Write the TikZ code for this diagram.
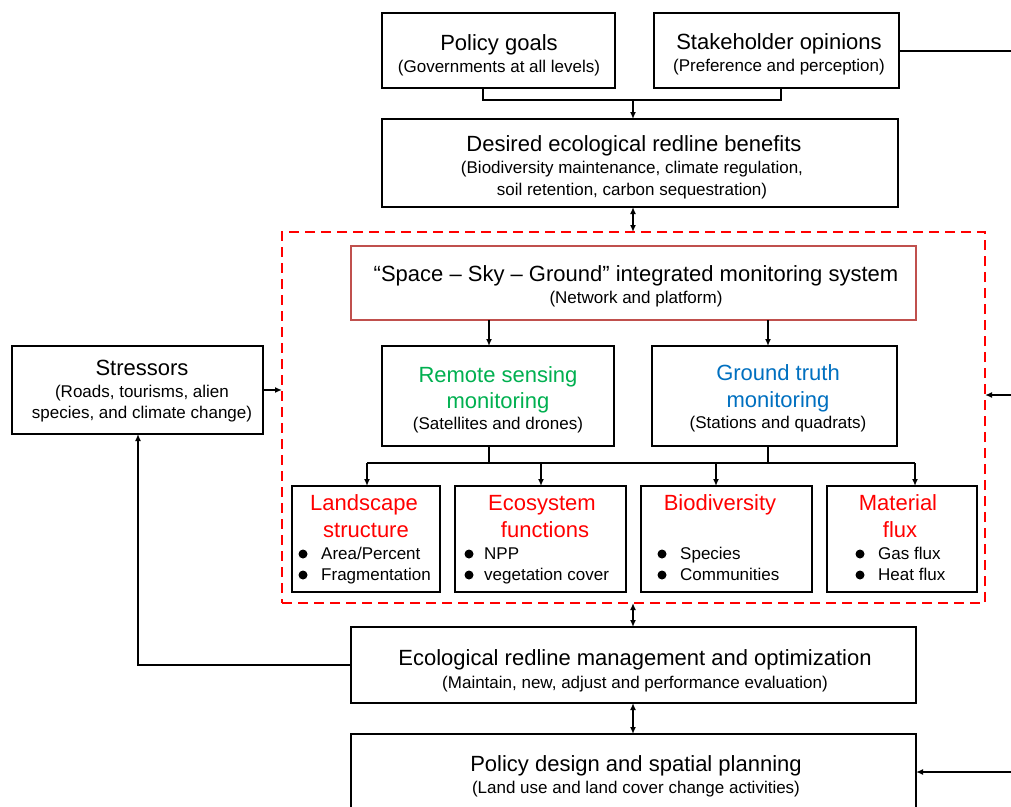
\documentclass[tikz,border=0pt]{standalone}
\usepackage{fontspec}
\setmainfont{Liberation Sans}
\usetikzlibrary{arrows.meta}
\definecolor{rgreen}{RGB}{0,176,80}
\definecolor{gblue}{RGB}{0,112,192}
\definecolor{ssgred}{RGB}{192,80,77}
\definecolor{tred}{RGB}{255,0,0}
\begin{document}
\begin{tikzpicture}[x=1pt,y=-1pt,
  box/.style={draw=black, line width=2.2pt, inner sep=0pt, outer sep=0pt},
  dashbox/.style={draw=tred, line width=2.2pt, dash pattern=on 10pt off 6pt, inner sep=0pt, outer sep=0pt},
  ssgbox/.style={draw=ssgred, line width=1.8pt, inner sep=0pt, outer sep=0pt},
  ln/.style={line width=2pt},
  arr/.style={ln, -{Latex[length=7pt,width=6pt]}},
  darr/.style={ln, {Latex[length=7pt,width=6pt]}-{Latex[length=7pt,width=6pt]}},
  tt/.style={inner sep=0pt, anchor=base, font=\fontsize{22}{26}\selectfont},
  ss/.style={inner sep=0pt, anchor=base, font=\fontsize{17}{20}\selectfont},
  it/.style={inner sep=0pt, anchor=base west, font=\fontsize{17}{20}\selectfont},
  bul/.style={fill=black},
]
\clip (0,0) rectangle (1011,806);
\fill[white] (0,0) rectangle (1011,806);

% ---------- boxes ----------
\node[box, minimum width=233pt, minimum height=75pt] (pg) at (498.5,50.5) {};
\node[box, minimum width=245pt, minimum height=75pt] (so) at (776.5,50.5) {};
\node[box, minimum width=516pt, minimum height=88pt] (ben) at (640,163) {};
\node[dashbox, minimum width=703pt, minimum height=371pt] (mon) at (633.5,417.5) {};
\node[ssgbox, minimum width=565pt, minimum height=74pt] (ssg) at (633.5,283) {};
\node[box, minimum width=232pt, minimum height=100pt] (rs) at (498,396) {};
\node[box, minimum width=245pt, minimum height=100pt] (gt) at (774.5,396) {};
\node[box, minimum width=148pt, minimum height=106pt] (ls) at (366,539) {};
\node[box, minimum width=171pt, minimum height=106pt] (ef) at (540.5,539) {};
\node[box, minimum width=171pt, minimum height=106pt] (bd) at (726.5,539) {};
\node[box, minimum width=150pt, minimum height=106pt] (mf) at (902,539) {};
\node[box, minimum width=251pt, minimum height=88pt] (st) at (137.5,390) {};
\node[box, minimum width=565pt, minimum height=76pt] (mg) at (633.5,665) {};
\node[box, minimum width=565pt, minimum height=96pt] (pd) at (633.5,782) {};

% ---------- texts ----------
\node[tt] (pgt) at (499,50) {Policy goals};
\node[ss] (pgs) at (499,72) {(Governments at all levels)};
\node[tt] (sot) at (779,49) {Stakeholder opinions};
\node[ss] (sos) at (779,71) {(Preference and perception)};
\node[tt] (bent) at (634,151) {Desired ecological redline benefits};
\node[ss] (bens1) at (632,173) {(Biodiversity maintenance, climate regulation,};
\node[ss] (bens2) at (632,195) {soil retention, carbon sequestration)};
\node[tt] (ssgt) at (636,281) {“Space – Sky – Ground” integrated monitoring system};
\node[ss] (ssgs) at (636,303) {(Network and platform)};
\node[tt, text=rgreen] (rst1) at (498,382) {Remote sensing};
\node[tt, text=rgreen] (rst2) at (498,408) {monitoring};
\node[ss] (rss) at (498,429) {(Satellites and drones)};
\node[tt, text=gblue] (gtt1) at (778,380) {Ground truth};
\node[tt, text=gblue] (gtt2) at (778,407) {monitoring};
\node[ss] (gts) at (778,428) {(Stations and quadrats)};
\node[tt] (stt) at (142,375) {Stressors};
\node[ss] (sts1) at (142,397) {(Roads, tourisms, alien};
\node[ss] (sts2) at (142,418) {species, and climate change)};
\node[tt] (mgt) at (635,665) {Ecological redline management and optimization};
\node[ss] (mgs) at (635,688) {(Maintain, new, adjust and performance evaluation)};
\node[tt] (pdt) at (636,771) {Policy design and spatial planning};
\node[ss] (pds) at (636,793) {(Land use and land cover change activities)};

% bottom boxes
\node[tt, text=tred] (lst1) at (364,510) {Landscape};
\node[tt, text=tred] (lst2) at (366,537) {structure};
\fill[bul] (303,554) circle (4.5pt); \node[it] (ls1) at (321,559.5) {Area/Percent};
\fill[bul] (303,575) circle (4.5pt); \node[it] (ls2) at (321,580.5) {Fragmentation};

\node[tt, text=tred] (eft1) at (542,510) {Ecosystem};
\node[tt, text=tred] (eft2) at (545,537) {functions};
\fill[bul] (469,554) circle (4.5pt); \node[it] (ef1) at (484,559.5) {NPP};
\fill[bul] (469,575) circle (4.5pt); \node[it] (ef2) at (484,580.5) {vegetation cover};

\node[tt, text=tred] (bdt1) at (720,510) {Biodiversity};
\fill[bul] (662,554) circle (4.5pt); \node[it] (bd1) at (680,559.5) {Species};
\fill[bul] (662,575) circle (4.5pt); \node[it] (bd2) at (680,580.5) {Communities};

\node[tt, text=tred] (mft1) at (898,510) {Material};
\node[tt, text=tred] (mft2) at (900,537) {flux};
\fill[bul] (860,554) circle (4.5pt); \node[it] (mf1) at (878,559.5) {Gas flux};
\fill[bul] (860,575) circle (4.5pt); \node[it] (mf2) at (878,580.5) {Heat flux};

% ---------- connector coordinates ----------
\coordinate (xp) at (483,0);
\coordinate (xq) at (781,0);
\coordinate (jt) at (633,100);
\coordinate (xc) at (633,0);
\coordinate (xa) at (489,0);
\coordinate (xb) at (768,0);
\coordinate (jm) at (0,463);
\coordinate (xl) at (367,0);
\coordinate (xe) at (541,0);
\coordinate (xd) at (716,0);
\coordinate (xm) at (915,0);
\coordinate (xs) at (138,0);
\coordinate (r1) at (1012,0);
\coordinate (r2) at (1012,395);
\coordinate (r3) at (1012,772);
\coordinate (ys) at (0,51);

% ---------- connectors ----------
\draw[ln] (pg.south -| xp) |- (jt) -| (so.south -| xq);
\draw[arr] (jt) -- (ben.north -| jt);
\draw[darr] (ben.south -| xc) -- (mon.north -| xc);
\draw[arr] (ssg.south -| xa) -- (rs.north -| xa);
\draw[arr] (ssg.south -| xb) -- (gt.north -| xb);
\draw[ln] (rs.south -| xa) -- (xa |- jm);
\draw[ln] (gt.south -| xb) -- (xb |- jm);
\draw[ln] (xl |- jm) -- (xm |- jm);
\draw[arr] (xl |- jm) -- (ls.north -| xl);
\draw[arr] (xe |- jm) -- (ef.north -| xe);
\draw[arr] (xd |- jm) -- (bd.north -| xd);
\draw[arr] (xm |- jm) -- (mf.north -| xm);
\draw[arr] (st.east) -- (st.east -| mon.west);
\draw[darr] (mon.south -| xc) -- (mg.north -| xc);
\draw[darr] (mg.south -| xc) -- (pd.north -| xc);
\draw[arr] (mg.west) -| (st.south -| xs);
\draw[ln] (so.east |- ys) -- (r1 |- ys);
\draw[arr] (r2) -- (r2 -| mon.east);
\draw[arr] (r3) -- (r3 -| pd.east);
\end{tikzpicture}
\end{document}
